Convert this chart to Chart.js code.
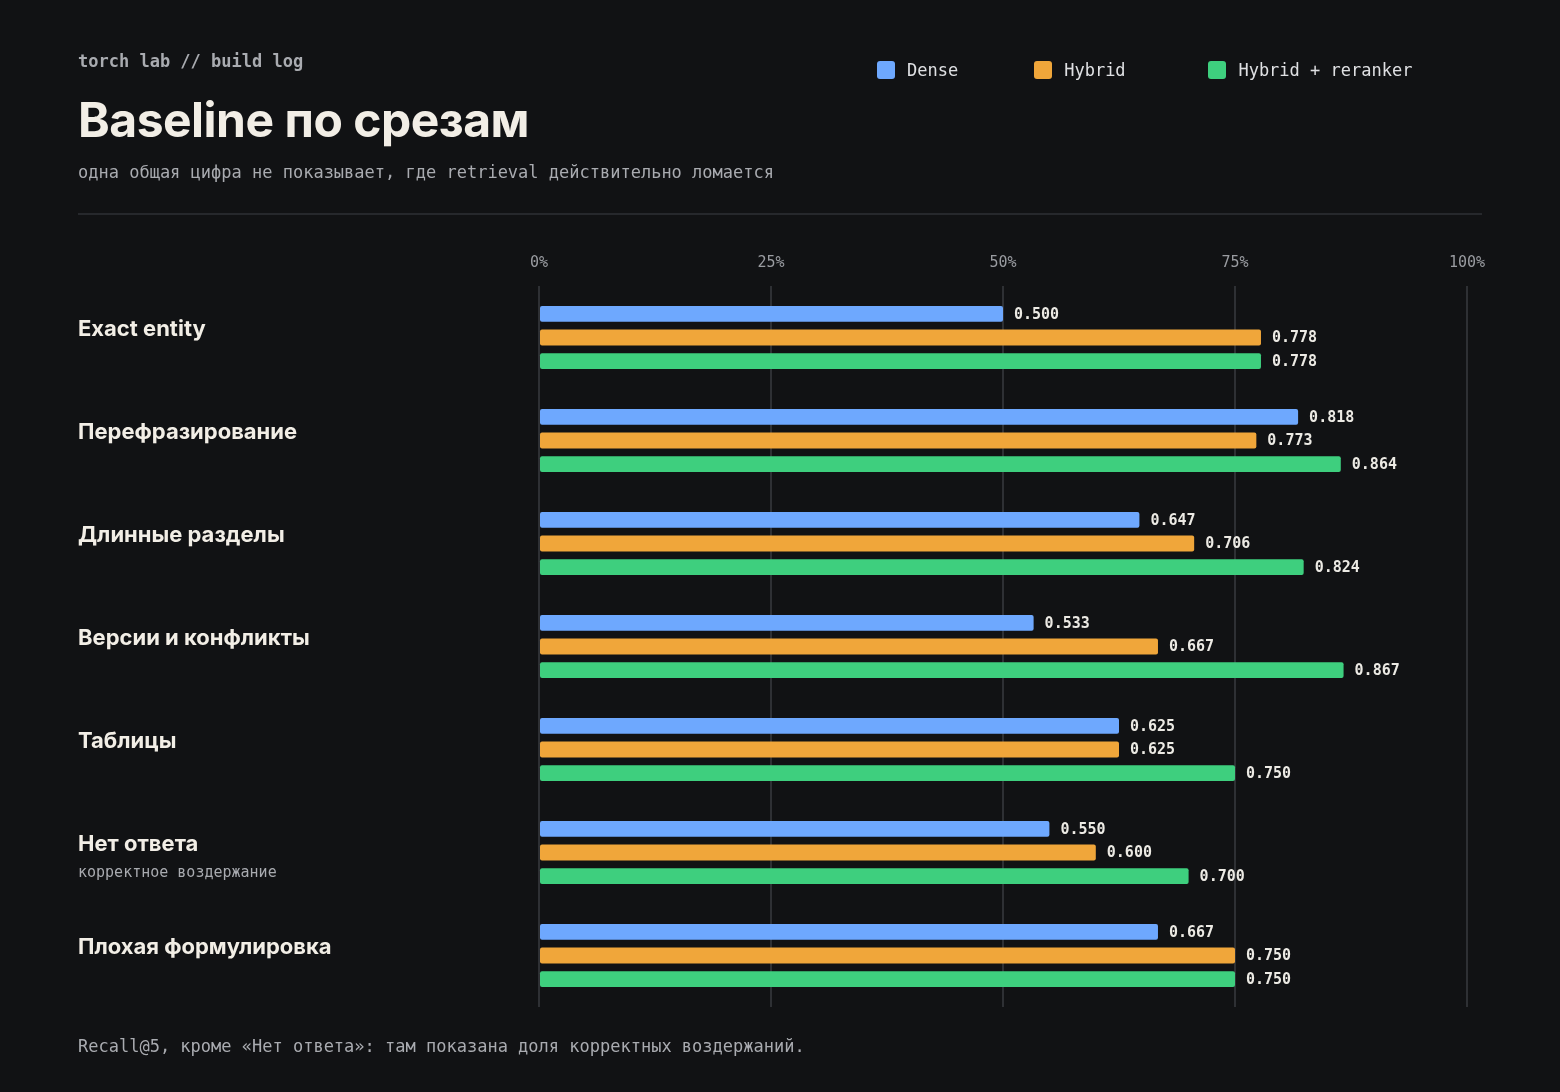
<!DOCTYPE html>
<html><head><meta charset="utf-8">
<script src="https://cdn.jsdelivr.net/npm/chart.js@4"></script>
<style>
body{margin:0;background:#111214;width:1560px;height:1092px;overflow:hidden;position:relative;font-family:"DejaVu Sans Mono",monospace}
#kicker{position:absolute;left:78px;top:51px;color:#a9abb0;font-weight:bold;font-size:17px}
#title{position:absolute;left:78px;top:90px;color:#f2eee6;font-family:Inter,sans-serif;font-weight:700;font-size:48px;letter-spacing:-0.5px}
#sub{position:absolute;left:78px;top:162px;color:#a9abb0;font-size:17px}
#rule{position:absolute;left:78px;top:213px;width:1404px;height:2px;background:#26282c}
#legend{position:absolute;top:60px;left:877px;display:flex;color:#dfe0e3;font-size:17px}
#legend span{display:flex;align-items:center;margin-right:0}
#legend i{display:inline-block;width:18px;height:18px;border-radius:3px;margin-right:12px}
#foot{position:absolute;left:78px;top:1036px;color:#a9abb0;font-size:17px}
#wrap{position:absolute;left:0;top:0;width:1560px;height:1092px}
</style></head><body>
<div id="wrap"><canvas id="c"></canvas></div>
<div id="kicker">torch lab // build log</div>
<div id="title">Baseline по срезам</div>
<div id="sub">одна общая цифра не показывает, где retrieval действительно ломается</div>
<div id="rule"></div>
<div id="legend"></div>
<div id="foot">Recall@5, кроме «Нет ответа»: там показана доля корректных воздержаний.</div>
<script>
const categories = ["Exact entity","Перефразирование","Длинные разделы","Версии и конфликты","Таблицы","Нет ответа","Плохая формулировка"];
const subLabels = ["","","","","","корректное воздержание",""];
const seriesNames = ["Dense","Hybrid","Hybrid + reranker"];
const dense = [0.500,0.818,0.647,0.533,0.625,0.550,0.667];
const hybrid = [0.778,0.773,0.706,0.667,0.625,0.600,0.750];
const reranker = [0.778,0.864,0.824,0.867,0.750,0.700,0.750];
const colors = ["#6ea8fe","#f0a63a","#3ecf7e"];
const legendGaps = [157,174,0];

const lg = document.getElementById("legend");
seriesNames.forEach((n,i)=>{
  const s=document.createElement("span");
  s.innerHTML=`<i style="background:${colors[i]}"></i>${n}`;
  s.style.marginRight=(legendGaps[i]- (n.length*10.2+30))+"px";
  lg.appendChild(s);
});

const labelPlugin = {
  id:"labels",
  afterDatasetsDraw(chart){
    const ctx=chart.ctx, y=chart.scales.y;
    ctx.save();
    categories.forEach((c,i)=>{
      const py=y.getPixelForValue(i);
      ctx.fillStyle="#f2eee6";
      ctx.font="bold 22px Inter, sans-serif";
      ctx.textBaseline="middle";ctx.textAlign="left";
      ctx.fillText(c,78,py-8);
      if(subLabels[i]){
        ctx.fillStyle="#a9abb0";ctx.font="15px 'DejaVu Sans Mono', monospace";
        ctx.fillText(subLabels[i],78,py+21);
      }
    });
    ctx.font="bold 15px 'DejaVu Sans Mono', monospace";
    ctx.fillStyle="#eceae4";ctx.textBaseline="middle";
    chart.data.datasets.forEach((ds,di)=>{
      chart.getDatasetMeta(di).data.forEach((bar,i)=>{
        ctx.fillText(ds.data[i].toFixed(3),bar.x+11,bar.y+1);
      });
    });
    ctx.restore();
  }
};

new Chart(document.getElementById("c"),{
  type:"bar",
  data:{labels:categories,datasets:[dense,hybrid,reranker].map((d,i)=>({
    label:seriesNames[i],data:d,backgroundColor:colors[i],borderRadius:2,borderSkipped:false,
    categoryPercentage:0.69,barPercentage:0.667}))},
  options:{
    indexAxis:"y",responsive:true,maintainAspectRatio:false,animation:false,
    layout:{padding:{left:531,right:93,top:240,bottom:85}},
    plugins:{legend:{display:false},tooltip:{enabled:false}},
    scales:{
      x:{position:"top",min:0,max:1,
        ticks:{stepSize:0.25,color:"#9a9ca1",font:{family:"DejaVu Sans Mono",size:15},padding:14,
          callback:v=>Math.round(v*100)+"%"},
        grid:{color:"#2e3034",lineWidth:2,drawTicks:false},border:{display:false}},
      y:{ticks:{display:false},grid:{display:false},border:{display:false}}
    }
  },
  plugins:[labelPlugin]
});
</script></body></html>
